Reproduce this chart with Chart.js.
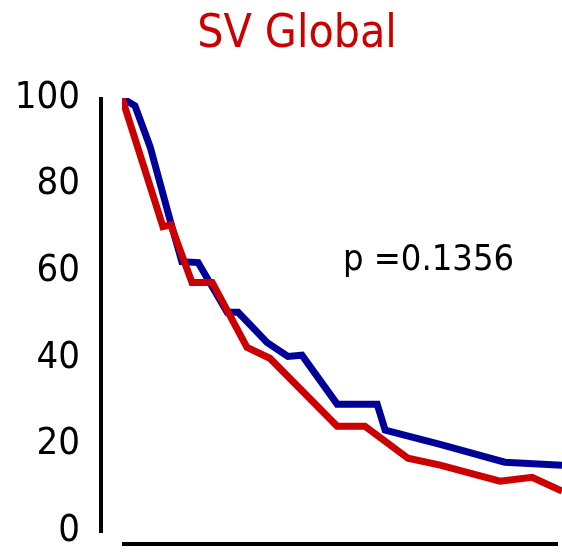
<!DOCTYPE html>
<html>
<head>
<meta charset="utf-8">
<script src="https://cdn.jsdelivr.net/npm/chart.js@4"></script>
<style>
  html, body { margin: 0; padding: 0; background: #fff; }
</style>
</head>
<body>
<canvas id="svChart" width="562" height="553"></canvas>
<script>
// Courbes de survie (temps en unités arbitraires, survie en %)
const timeBlue = [0, 2.95, 6.4, 10.9, 13.6, 17.3, 23.9, 26.4, 33.0, 37.7, 40.9, 48.9, 58.0, 59.8, 72.3, 87.0, 100];
const survBlue = [100, 98.2, 88.7, 71.9, 62.2, 62.0, 50.5, 50.5, 43.5, 40.3, 40.6, 29.3, 29.3, 23.3, 20.0, 15.9, 15.2];
const timeRed = [0, 9.3, 11.1, 15.9, 20.5, 28.4, 33.6, 48.9, 55.2, 65.0, 72.3, 85.9, 93.2, 100];
const survRed = [100, 70.3, 70.7, 57.4, 57.4, 42.4, 39.9, 24.2, 24.2, 16.8, 15.2, 11.5, 12.4, 9.2];
const yTicks = [0, 20, 40, 60, 80, 100];
const titleText = 'SV Global';
const pText = 'p =0.1356';

const FONT = '"DejaVu Sans Condensed", "DejaVu Sans", sans-serif';

const toPoints = (xs, ys) => xs.map((x, i) => ({ x: x, y: ys[i] }));

// Axes décalés + titre + p-value
const decorPlugin = {
    id: 'decor',
    afterDraw(chart) {
        const { ctx, chartArea, scales } = chart;
        const x = scales.x, y = scales.y;
        ctx.save();
        ctx.strokeStyle = '#000';
        ctx.lineWidth = 4;
        ctx.lineCap = 'butt';
        // axe vertical
        const ax = chartArea.left - 21;
        ctx.beginPath();
        ctx.moveTo(ax, y.getPixelForValue(100) - 1);
        ctx.lineTo(ax, y.getPixelForValue(0) + 2);
        ctx.stroke();
        // axe horizontal
        const ay = y.getPixelForValue(0) + 13;
        ctx.beginPath();
        ctx.moveTo(x.getPixelForValue(0), ay);
        ctx.lineTo(chartArea.right - 4, ay);
        ctx.stroke();
        // titre
        ctx.fillStyle = '#CC0000';
        ctx.font = '46px ' + FONT;
        ctx.textAlign = 'center';
        ctx.textBaseline = 'alphabetic';
        ctx.fillText(titleText, 297, 47);
        // p-value
        ctx.fillStyle = '#000';
        ctx.font = '36px ' + FONT;
        ctx.textAlign = 'left';
        ctx.fillText(pText, x.getPixelForValue(50.2), y.getPixelForValue(60.3));
        ctx.restore();
    }
};

const ctx = document.getElementById('svChart').getContext('2d');
new Chart(ctx, {
    type: 'line',
    data: {
        datasets: [
            {
                data: toPoints(timeRed, survRed),
                borderColor: '#CC0000',
                borderWidth: 7,
                pointRadius: 0,
                tension: 0,
                fill: false
            },
            {
                data: toPoints(timeBlue, survBlue),
                borderColor: '#000099',
                borderWidth: 7,
                pointRadius: 0,
                tension: 0,
                fill: false
            }
        ]
    },
    options: {
        responsive: false,
        animation: false,
        layout: { padding: { top: 98, bottom: 22, left: 0, right: 0 } },
        plugins: {
            legend: { display: false },
            title: { display: false },
            tooltip: { enabled: false }
        },
        scales: {
            x: {
                type: 'linear',
                display: false,
                min: 0,
                max: 100
            },
            y: {
                min: 0,
                max: 100,
                afterBuildTicks: (scale) => {
                    scale.ticks = yTicks.map(v => ({ value: v }));
                },
                afterFit: (scale) => {
                    scale.width = 122;
                    scale.paddingTop = 0;
                    scale.paddingBottom = 0;
                },
                grid: { display: false, drawTicks: false },
                border: { display: false },
                ticks: {
                    color: '#000',
                    padding: 42,
                    font: { family: FONT, size: 38, lineHeight: 1 }
                }
            }
        }
    },
    plugins: [decorPlugin]
});
</script>
</body>
</html>
